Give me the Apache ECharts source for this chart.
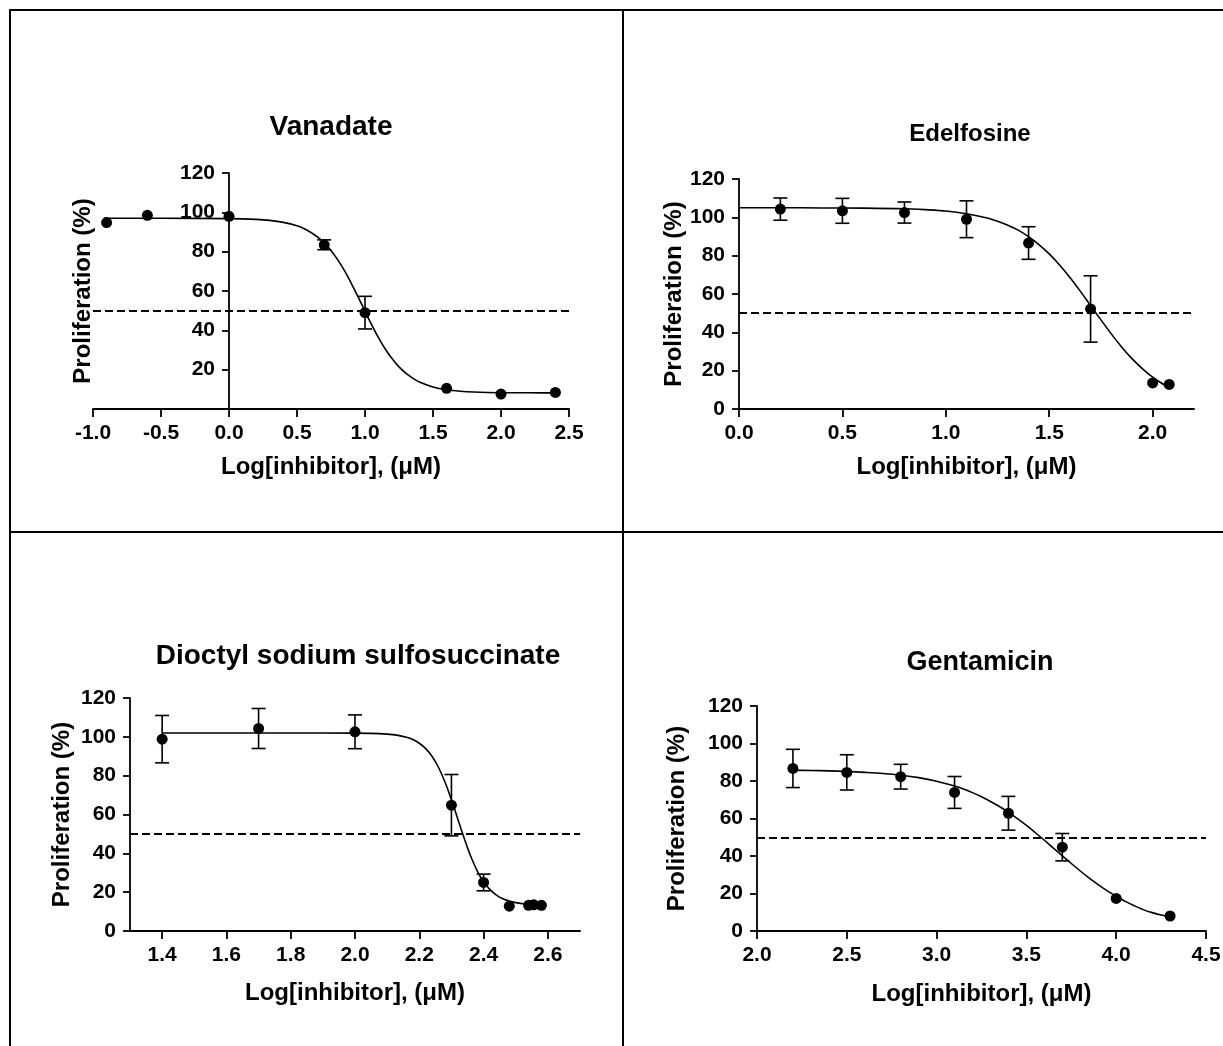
<!DOCTYPE html>
<html><head><meta charset="utf-8">
<script src="https://cdn.jsdelivr.net/npm/echarts@6/dist/echarts.min.js"></script>
<style>html,body{margin:0;padding:0;background:#fff}#c{width:1223px;height:1046px}</style>
</head><body><div id="c"></div><script>
const FONT = '"Liberation Sans", Arial, Helvetica, sans-serif';
const panelTitles = ['Vanadate', 'Edelfosine', 'Dioctyl sodium sulfosuccinate', 'Gentamicin'];
const xAxisName = 'Log[inhibitor], (\u03bcM)';
const yAxisName = 'Proliferation (%)';
const threshold = 50;

// Vanadate
const vanX = [-0.9, -0.6, 0, 0.7, 1.0, 1.6, 2.0, 2.4];
const vanY = [94.8, 98.5, 98.0, 83.5, 49.0, 10.5, 7.6, 8.4];
const vanErr = [0, 0, 0, 2.5, 8.3, 0, 0, 0];
const vanFitX = [-0.92, -0.5, 0.0, 0.2, 0.3, 0.4, 0.5, 0.55, 0.6, 0.65, 0.7, 0.75, 0.8, 0.85, 0.9, 0.95, 1.0, 1.05, 1.1, 1.15, 1.2, 1.25, 1.3, 1.35, 1.4, 1.5, 1.6, 1.7, 1.8, 2.0, 2.2, 2.4];
const vanFitY = [97.0, 97.0, 96.8, 96.4, 95.9, 94.9, 93.2, 91.8, 89.9, 87.5, 84.5, 80.6, 75.8, 70.2, 63.8, 56.9, 49.7, 42.7, 36.2, 30.4, 25.5, 21.4, 18.2, 15.7, 13.7, 11.2, 9.8, 9.05, 8.65, 8.3, 8.24, 8.2];
const vanTicksX = [-1.0, -0.5, 0.0, 0.5, 1.0, 1.5, 2.0, 2.5];
const vanTicksY = [20, 40, 60, 80, 100, 120];

// Edelfosine
const edeX = [0.2, 0.5, 0.8, 1.1, 1.4, 1.7, 2.0, 2.08];
const edeY = [104.3, 103.4, 102.5, 99.0, 86.6, 52.2, 13.6, 12.8];
const edeErr = [5.8, 6.5, 5.5, 9.6, 8.5, 17.3, 0, 0];
const edeFitX = [0.0, 0.2, 0.4, 0.6, 0.8, 0.9, 1.0, 1.1, 1.2, 1.25, 1.3, 1.35, 1.4, 1.45, 1.5, 1.55, 1.6, 1.65, 1.7, 1.75, 1.8, 1.85, 1.9, 1.95, 2.0, 2.04, 2.08];
const edeFitY = [105.0, 105.0, 104.9, 104.8, 104.5, 104.0, 103.3, 101.9, 99.7, 98.0, 95.9, 93.3, 89.9, 85.8, 80.9, 75.1, 68.6, 61.5, 54.0, 46.5, 39.2, 32.4, 26.3, 21.1, 16.6, 13.7, 11.2];
const edeTicksX = [0.0, 0.5, 1.0, 1.5, 2.0];
const edeTicksY = [0, 20, 40, 60, 80, 100, 120];

// Dioctyl sodium sulfosuccinate
const dioX = [1.4, 1.7, 2.0, 2.3, 2.4, 2.48, 2.54, 2.556, 2.58];
const dioY = [98.8, 104.3, 102.6, 64.8, 25.0, 12.8, 13.2, 13.5, 13.2];
const dioErr = [12.2, 10.3, 8.7, 15.8, 4.3, 0, 0, 0, 0];
const dioFitX = [1.4, 1.8, 2.0, 2.05, 2.1, 2.13, 2.16, 2.18, 2.2, 2.22, 2.24, 2.26, 2.28, 2.3, 2.31, 2.32, 2.33, 2.34, 2.35, 2.36, 2.38, 2.4, 2.42, 2.44, 2.46, 2.48, 2.5, 2.53, 2.56, 2.58];
const dioFitY = [102.0, 102.0, 101.9, 101.8, 101.4, 100.9, 99.8, 98.6, 96.7, 93.9, 89.9, 84.2, 76.7, 67.6, 62.7, 57.6, 52.5, 47.6, 42.9, 38.5, 31.0, 25.3, 21.3, 18.5, 16.6, 15.4, 14.6, 13.9, 13.55, 13.4];
const dioTicksX = [1.4, 1.6, 1.8, 2.0, 2.2, 2.4, 2.6];
const dioTicksY = [0, 20, 40, 60, 80, 100, 120];

// Gentamicin
const genX = [2.2, 2.5, 2.8, 3.1, 3.4, 3.7, 4.0, 4.3];
const genY = [86.7, 84.6, 82.3, 73.9, 62.8, 44.7, 17.4, 8.0];
const genErr = [10.2, 9.4, 6.6, 8.5, 9.0, 7.3, 0, 0];
const genFitX = [2.2, 2.3, 2.4, 2.5, 2.6, 2.7, 2.8, 2.9, 3.0, 3.1, 3.15, 3.2, 3.25, 3.3, 3.35, 3.4, 3.45, 3.5, 3.55, 3.6, 3.65, 3.7, 3.75, 3.8, 3.85, 3.9, 3.95, 4.0, 4.05, 4.1, 4.15, 4.2, 4.25, 4.3];
const genFitY = [85.7, 85.6, 85.4, 85.1, 84.6, 84.0, 83.1, 81.8, 79.9, 77.3, 75.7, 73.8, 71.6, 69.1, 66.4, 63.3, 59.9, 56.3, 52.4, 48.4, 44.2, 40.1, 36.0, 32.0, 28.2, 24.7, 21.4, 18.5, 15.8, 13.5, 11.4, 9.8, 8.5, 7.5];
const genTicksX = [2.0, 2.5, 3.0, 3.5, 4.0, 4.5];
const genTicksY = [0, 20, 40, 60, 80, 100, 120];

const xRanges = [[-1, 2.5], [0, 2.2], [1.3, 2.7], [2.0, 4.5]];
const yRange = [0, 120];

const panels = [
  {x: vanX, y: vanY, e: vanErr, fx: vanFitX, fy: vanFitY, tx: vanTicksX, ty: vanTicksY},
  {x: edeX, y: edeY, e: edeErr, fx: edeFitX, fy: edeFitY, tx: edeTicksX, ty: edeTicksY},
  {x: dioX, y: dioY, e: dioErr, fx: dioFitX, fy: dioFitY, tx: dioTicksX, ty: dioTicksY},
  {x: genX, y: genY, e: genErr, fx: genFitX, fy: genFitY, tx: genTicksX, ty: genTicksY}
];

// layout (pixels)
const grids = [
  {left: 93, top: 173, width: 476, height: 236},
  {left: 739, top: 179, width: 455, height: 230},
  {left: 130, top: 698, width: 450, height: 233},
  {left: 757, top: 706, width: 449, height: 225}
];
const yAxisOffset = [-136, 0, 0, 0];
const titlePos = [[331, 127], [970, 134], [358, 656], [980, 663]];
const titleSize = [28, 24, 28, 27];
const xNameGap = [46, 46, 50, 51];
const yNameGap = [134, 50, 56, 68];

const axisLineStyle = {color: '#000', width: 1.8};
const labelStyle = {color: '#000', fontWeight: 'bold', fontSize: 21, fontFamily: FONT};
const nameStyle = {color: '#000', fontWeight: 'bold', fontSize: 24, fontFamily: FONT};

function errRender(params, api) {
  const x = api.value(0), y = api.value(1), e = api.value(2);
  if (!e) return null;
  const t = api.coord([x, y + e]), b = api.coord([x, y - e]);
  const w = 7;
  const st = {stroke: '#000', lineWidth: 1.6};
  return {type: 'group', children: [
    {type: 'line', shape: {x1: t[0], y1: t[1], x2: b[0], y2: b[1]}, style: st},
    {type: 'line', shape: {x1: t[0] - w, y1: t[1], x2: t[0] + w, y2: t[1]}, style: st},
    {type: 'line', shape: {x1: b[0] - w, y1: b[1], x2: b[0] + w, y2: b[1]}, style: st}
  ]};
}

const xAxes = [], yAxes = [], series = [];
panels.forEach((p, i) => {
  xAxes.push({
    type: 'value', gridIndex: i, min: xRanges[i][0], max: xRanges[i][1],
    axisLine: {show: true, onZero: true, lineStyle: axisLineStyle},
    axisTick: {show: true, length: 8, customValues: p.tx, lineStyle: axisLineStyle},
    axisLabel: {customValues: p.tx, margin: 14, formatter: v => v.toFixed(1), ...labelStyle},
    splitLine: {show: false},
    name: xAxisName, nameLocation: 'middle', nameGap: xNameGap[i], nameTextStyle: nameStyle
  });
  yAxes.push({
    type: 'value', gridIndex: i, min: yRange[0], max: yRange[1],
    offset: yAxisOffset[i],
    axisLine: {show: true, onZero: false, lineStyle: axisLineStyle},
    axisTick: {show: true, length: 7, customValues: p.ty, lineStyle: axisLineStyle},
    axisLabel: {customValues: p.ty, margin: 14, formatter: v => String(v), ...labelStyle},
    splitLine: {show: false},
    name: yAxisName, nameLocation: 'middle', nameGap: yNameGap[i], nameRotate: 90, nameTextStyle: nameStyle
  });
  series.push({
    type: 'line', xAxisIndex: i, yAxisIndex: i,
    data: p.fx.map((v, k) => [v, p.fy[k]]),
    showSymbol: false, smooth: 0.3,
    lineStyle: {color: '#000', width: 1.6},
    markLine: {silent: true, symbol: ['none', 'none'], label: {show: false},
      lineStyle: {color: '#000', width: 2.2, type: [8, 4]},
      data: [{yAxis: threshold}]},
    z: 2
  });
  series.push({
    type: 'custom', xAxisIndex: i, yAxisIndex: i,
    data: p.x.map((v, k) => [v, p.y[k], p.e[k]]),
    renderItem: errRender, z: 3
  });
  series.push({
    type: 'scatter', xAxisIndex: i, yAxisIndex: i,
    data: p.x.map((v, k) => [v, p.y[k]]),
    symbol: 'circle', symbolSize: 11, itemStyle: {color: '#000', opacity: 1}, z: 4
  });
});

const graphics = [
  {type: 'line', shape: {x1: 9, y1: 10, x2: 1223, y2: 10}, style: {stroke: '#000', lineWidth: 2}},
  {type: 'line', shape: {x1: 10, y1: 9, x2: 10, y2: 1046}, style: {stroke: '#000', lineWidth: 2}},
  {type: 'line', shape: {x1: 623, y1: 10, x2: 623, y2: 1046}, style: {stroke: '#000', lineWidth: 2}},
  {type: 'line', shape: {x1: 9, y1: 532, x2: 1223, y2: 532}, style: {stroke: '#000', lineWidth: 2}}
];
panelTitles.forEach((t, i) => {
  graphics.push({type: 'text', x: titlePos[i][0], y: titlePos[i][1],
    style: {text: t, fill: '#000', font: 'bold ' + titleSize[i] + 'px ' + FONT, align: 'center', verticalAlign: 'middle'}});
});

const chart = echarts.init(document.getElementById('c'), null, {renderer: 'canvas'});
chart.setOption({
  animation: false,
  backgroundColor: '#fff',
  grid: grids.map(g => ({...g, containLabel: false, outerBoundsMode: 'none'})),
  xAxis: xAxes, yAxis: yAxes, series: series, graphic: graphics
});
</script></body></html>
